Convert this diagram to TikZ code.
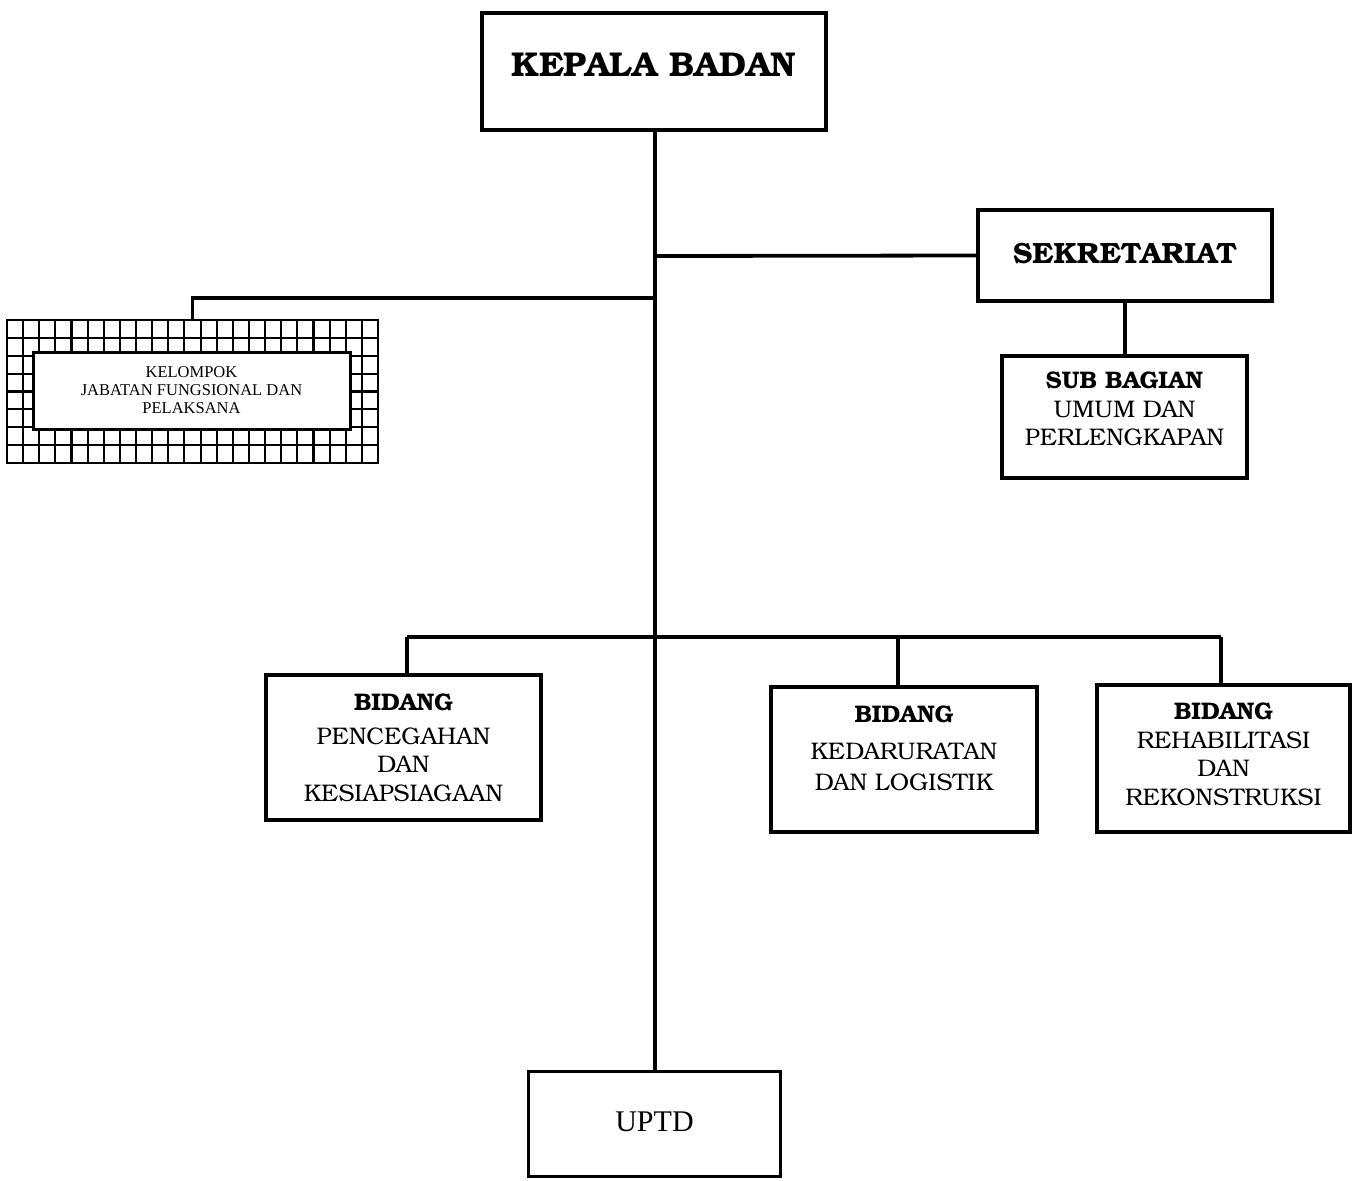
\documentclass[tikz,border=0pt]{standalone}
\usepackage{fontspec}
\setmainfont{TeX Gyre Bonum}
\newfontfamily\timesf{Liberation Serif}
\begin{document}
\begin{tikzpicture}[x=1pt,y=-1pt,
  box/.style={draw, line width=3.8pt, fill=white, inner sep=0pt},
  conn/.style={line width=3.8pt},
  txt/.style={align=center, font=\fontsize{24}{28.5}\selectfont, inner sep=0pt},
  gridline/.style={line width=2.1pt}]
\useasboundingbox (0,0) rectangle (1356,1180);
% boxes
\node[box, minimum width=344pt, minimum height=117pt] (kepala) at (654,71.5) {};
\node[txt, font=\fontsize{34.5}{36}\selectfont\bfseries] (kepalat) at (654,65) {KEPALA BADAN};
\node[box, minimum width=294pt, minimum height=91pt] (sek) at (1125,255.5) {};
\node[txt, font=\fontsize{29.3}{30}\selectfont\bfseries] (sekt) at (1125,253.5) {SEKRETARIAT};
\node[box, minimum width=245pt, minimum height=122pt] (sub) at (1124.5,417) {};
\node[txt] (subt) at (1124.5,409) {\textbf{SUB BAGIAN}\\UMUM DAN\\PERLENGKAPAN};
\node[box, minimum width=275pt, minimum height=145pt] (b1) at (403.5,747.5) {};
\node[txt] (b1t) at (403.5,748) {\textbf{BIDANG}\\[5pt]PENCEGAHAN\\DAN\\KESIAPSIAGAAN};
\node[box, minimum width=266pt, minimum height=145pt] (b2) at (904,759.5) {};
\node[txt, font=\fontsize{24}{31}\selectfont] (b2t) at (904,748) {\textbf{BIDANG}\\[6pt]KEDARURATAN\\DAN LOGISTIK};
\node[box, minimum width=253pt, minimum height=147pt] (b3) at (1223.5,758.5) {};
\node[txt] (b3t) at (1223.5,754.5) {\textbf{BIDANG}\\REHABILITASI\\DAN\\REKONSTRUKSI};
\node[box, line width=3pt, minimum width=252pt, minimum height=105pt] (uptd) at (654.5,1124) {};
\node[txt, font=\fontsize{30}{32}\selectfont\timesf] (uptdt) at (654.5,1122) {UPTD};
% grid box
\node[draw, line width=2.4pt, fill=white, inner sep=0pt, minimum width=371pt, minimum height=143pt] (grid) at (192.5,391.5) {};
\foreach \i in {1,...,22} {\draw[gridline] ({7+\i*16.13},320) -- ({7+\i*16.13},463);}
\foreach \j in {1,...,7} {\draw[gridline] (7,{320+\j*17.875}) -- (378,{320+\j*17.875});}
\node[draw, line width=3pt, fill=white, inner sep=0pt, minimum width=317pt, minimum height=77pt] (kel) at (191.5,390.5) {};
\node[txt, font=\fontsize{16.5}{18}\selectfont\timesf] (kelt) at (191.5,390) {KELOMPOK\\JABATAN FUNGSIONAL DAN\\PELAKSANA};
% connectors
\coordinate (jsek) at (655,256);
\coordinate (jkel) at (655,298);
\coordinate (jbus) at (655,637);
\draw[conn] (kepala.south -| 655,0) -- (uptd.north -| 655,0);
\draw[conn] (jsek) -- (sek.west);
\draw[conn] (jkel) -| (grid.north);
\draw[conn] (sek.south) -- (sub.north -| sek.south);
\draw[conn] (407,637) -- (1221,637);
\draw[conn] (407,637) -- (b1.north -| 407,0);
\draw[conn] (898,637) -- (b2.north -| 898,0);
\draw[conn] (1221,637) -- (b3.north -| 1221,0);
\end{tikzpicture}
\end{document}
